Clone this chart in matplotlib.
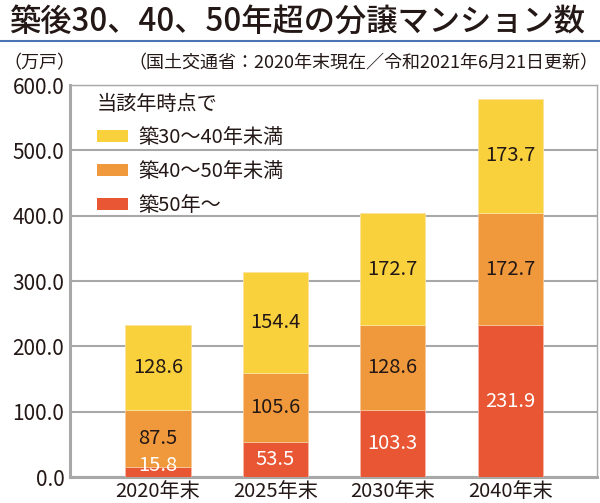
import matplotlib
matplotlib.use("Agg")
import matplotlib.pyplot as plt
from matplotlib.patches import Patch
from matplotlib.lines import Line2D
import numpy as np

plt.rcParams['font.family'] = ['Noto Sans CJK JP', 'DejaVu Sans']

# data (万戸)
years = ['2020年末', '2025年末', '2030年末', '2040年末']
over50 = [15.8, 53.5, 103.3, 231.9]
age40_50 = [87.5, 105.6, 128.6, 172.7]
age30_40 = [128.6, 154.4, 172.7, 173.7]
series_names = ['築30～40年未満', '築40～50年未満', '築50年～']
yticks = [0, 100, 200, 300, 400, 500, 600]

c_yellow = '#F9D13D'
c_orange = '#F0993C'
c_red = '#E85634'
grid_c = '#A8A8A8'
txt_c = '#231815'
fs = 14.5

fig = plt.figure(figsize=(6, 5.03), dpi=100)
ax = fig.add_axes([70/600, 1-477/503, 527/600, 392/503])

x = np.arange(len(years))
w = 0.555
over50 = np.array(over50)
age40_50 = np.array(age40_50)
age30_40 = np.array(age30_40)

ax.bar(x, over50, w, color=c_red, edgecolor='#f6b8a8', linewidth=0.6, zorder=3)
ax.bar(x, age40_50, w, bottom=over50, color=c_orange, edgecolor='#f8c89a', linewidth=0.6, zorder=3)
ax.bar(x, age30_40, w, bottom=over50 + age40_50, color=c_yellow, edgecolor='#fbe3a0', linewidth=0.6, zorder=3)

# value labels
for i in range(len(years)):
    y0 = over50[i] / 2
    if over50[i] < 30:
        y0 = over50[i] + 2
    ax.text(x[i], y0, f'{over50[i]:.1f}', ha='center', va='center', color='white', fontsize=fs, zorder=4)
    ax.text(x[i], over50[i] + age40_50[i] / 2, f'{age40_50[i]:.1f}', ha='center', va='center',
            color=txt_c, fontsize=fs, zorder=4)
    ax.text(x[i], over50[i] + age40_50[i] + age30_40[i] / 2, f'{age30_40[i]:.1f}', ha='center',
            va='center', color=txt_c, fontsize=fs, zorder=4)

ax.set_xlim(-0.75, 3.74)
ax.set_ylim(0, 600)
ax.set_yticks(yticks)
ax.set_yticklabels([f'{v:.1f}' for v in yticks])
ax.set_xticks(x)
ax.set_xticklabels(years)
ax.tick_params(length=0, labelsize=fs, colors=txt_c, pad=4)
ax.tick_params(axis='y', labelsize=15)
ax.tick_params(axis='x', pad=3)
ax.yaxis.grid(True, color=grid_c, linewidth=1.5, zorder=1)
for s in ['top', 'right']:
    ax.spines[s].set_color(grid_c)
    ax.spines[s].set_linewidth(1.0)
for s in ['left', 'bottom']:
    ax.spines[s].set_color(grid_c)
    ax.spines[s].set_linewidth(2.2)

# legend (title drawn separately to control its spacing)
fig.text(97/600, 1-104/503, '当該年時点で', fontsize=fs, color=txt_c, va='center', ha='left')
handles = [Patch(facecolor=c_yellow), Patch(facecolor=c_orange), Patch(facecolor=c_red)]
leg = ax.legend(handles, series_names, loc='upper left',
                bbox_to_anchor=(89/600, 1-119/503), bbox_transform=fig.transFigure,
                frameon=False, fontsize=fs, handlelength=1.55, handleheight=0.55,
                handletextpad=0.5, labelspacing=0.65, borderaxespad=0)
for t in leg.get_texts():
    t.set_color(txt_c)

# title, rule and notes
fig.text(0.015, 1-22/503, '築後30、40、50年超の分譲マンション数', fontsize=22.5, fontweight='medium',
         color=txt_c, va='center', ha='left')
fig.add_artist(Line2D([0, 1], [1-41/503, 1-41/503], color='#4a74b4', linewidth=1.5,
                      transform=fig.transFigure))
fig.text(0.005, 1-63/503, '（万戸）', fontsize=13, color=txt_c, va='center', ha='left')
fig.text(0.997, 1-63/503, '（国土交通省：2020年末現在／令和2021年6月21日更新）', fontsize=13,
         color=txt_c, va='center', ha='right')

fig.savefig('out.png', dpi=100)
